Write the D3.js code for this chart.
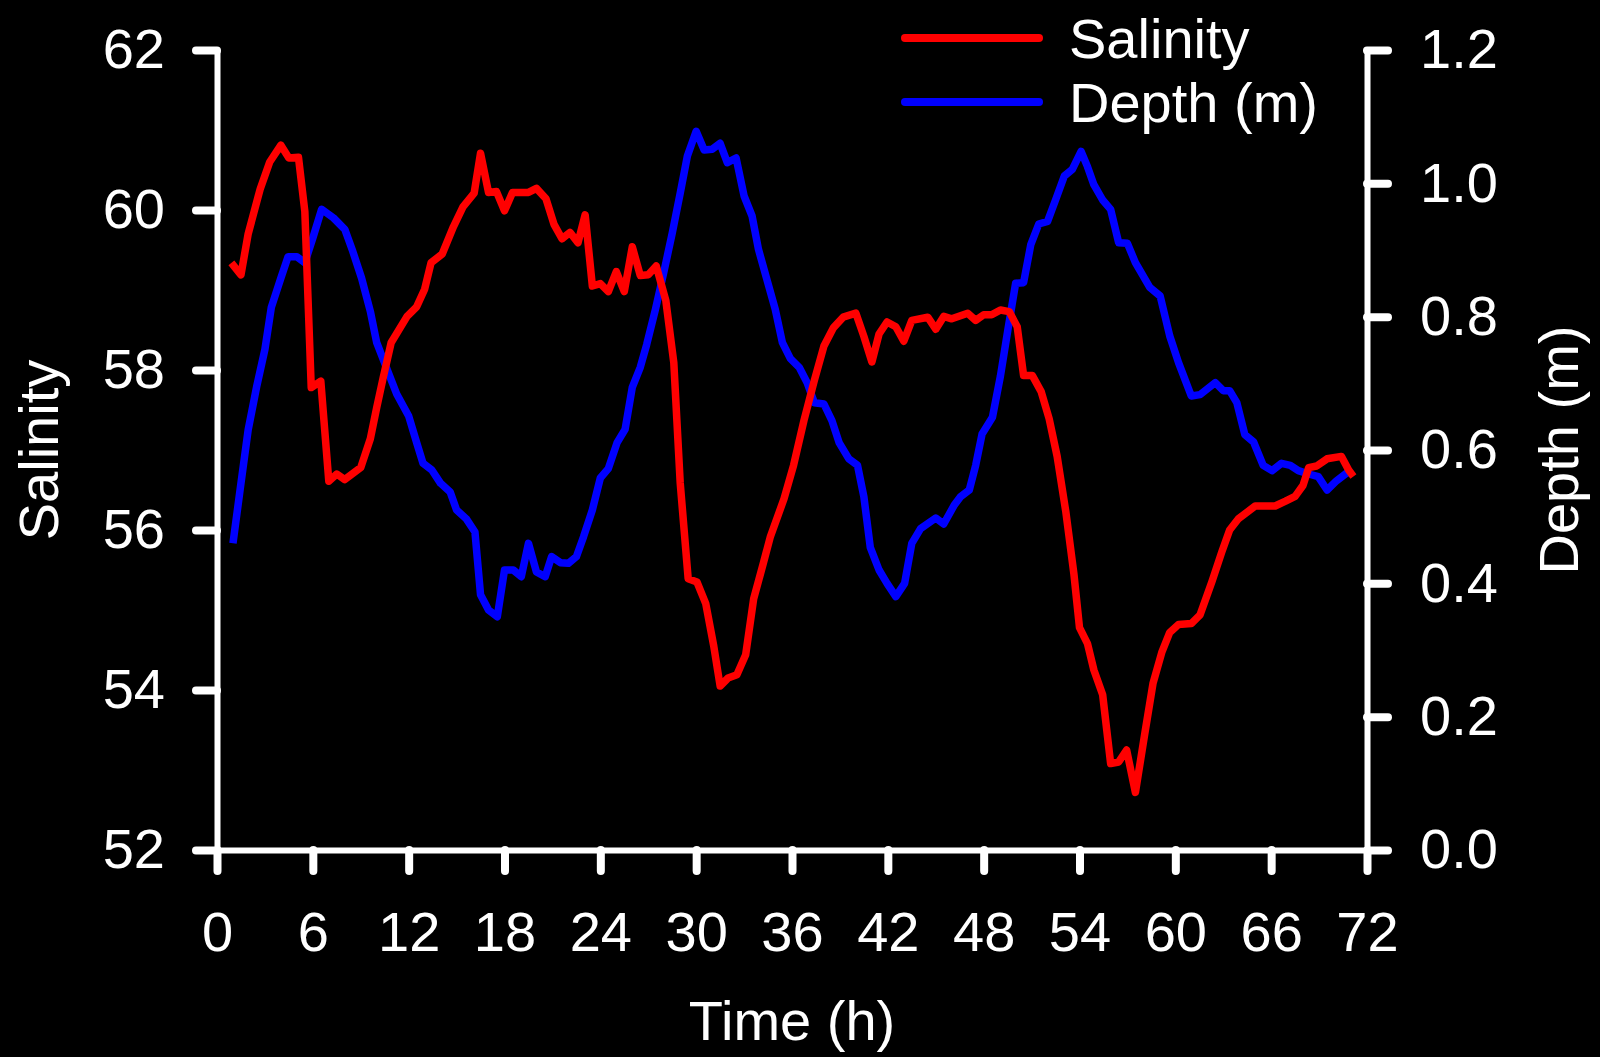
<!DOCTYPE html>
<html>
<head>
<meta charset="utf-8">
<script src="https://cdn.jsdelivr.net/npm/d3@7"></script>
<style>
  body { margin: 0; background: #000; }
  svg { display: block; }
</style>
</head>
<body>
<script>
// Salinity series (time in h, salinity)
const salinityHours = [0.9, 1.5, 1.95, 2.7, 3.3, 4.0, 4.5, 5.1, 5.5, 5.9, 6.5, 7.0, 7.5, 8.0, 9.0, 9.6, 10.0, 10.4, 10.9, 11.9,
  12.5, 13.0, 13.4, 14.1, 14.8, 15.4, 16.1, 16.5, 17.0, 17.5, 18.0, 18.5, 19.5, 20.0, 20.6, 21.1, 21.6, 22.1, 22.6, 23.05,
  23.5, 24.0, 24.5, 25.0, 25.5, 26.0, 26.5, 27.0, 27.5, 28.1, 28.6, 29.0, 29.5, 30.05, 30.6, 31.1, 31.5, 32.0, 32.55, 33.1,
  33.6, 34.2, 34.65, 35.5, 36.1, 36.75, 37.4, 38.0, 38.6, 39.2, 40.0, 40.5, 41.0, 41.45, 41.95, 42.5, 43.0, 43.5, 44.5, 45.0,
  45.5, 46.0, 47.0, 47.5, 48.0, 48.5, 49.05, 49.6, 50.1, 50.5, 51.05, 51.6, 52.1, 52.6, 53.15, 53.65, 54.0, 54.5, 54.9, 55.45,
  55.95, 56.45, 56.95, 57.5, 58.1, 58.6, 59.15, 59.65, 60.2, 61.0, 61.55, 62.3, 62.9, 63.4, 63.95, 65.0, 66.25, 66.9, 67.5, 68.0,
  68.35, 68.85, 69.5, 70.4, 70.85, 71.15];
const salinityValues = [59.34, 59.19, 59.70, 60.26, 60.6, 60.81, 60.65, 60.66, 59.98, 57.78, 57.86, 56.61, 56.7, 56.63, 56.78, 57.14, 57.53, 57.9, 58.34, 58.67,
  58.79, 59.01, 59.34, 59.45, 59.79, 60.04, 60.21, 60.71, 60.22, 60.23, 59.99, 60.22, 60.22, 60.27, 60.14, 59.82, 59.64, 59.72, 59.59, 59.94,
  59.05, 59.08, 58.98, 59.23, 58.98, 59.54, 59.18, 59.19, 59.3, 58.87, 58.09, 56.59, 55.39, 55.35, 55.08, 54.55, 54.05, 54.15, 54.19, 54.44,
  55.14, 55.58, 55.92, 56.39, 56.81, 57.37, 57.87, 58.3, 58.53, 58.66, 58.71, 58.42, 58.1, 58.45, 58.6, 58.54, 58.36, 58.62, 58.66, 58.51,
  58.67, 58.64, 58.71, 58.62, 58.69, 58.69, 58.75, 58.73, 58.54, 57.93, 57.93, 57.73, 57.39, 56.92, 56.22, 55.45, 54.78, 54.58, 54.25, 53.94,
  53.08, 53.1, 53.25, 52.72, 53.47, 54.08, 54.47, 54.72, 54.82, 54.83, 54.94, 55.36, 55.72, 56.0, 56.14, 56.3, 56.3, 56.36, 56.42, 56.56,
  56.78, 56.8, 56.89, 56.92, 56.75, 56.67];

// Depth series (time in h, depth in m)
const depthHours = [1.0, 1.5, 1.95, 2.5, 3.0, 3.4, 4.0, 4.45, 5.0, 5.5, 6.0, 6.55, 7.3, 8.0, 8.5, 9.05, 9.6, 10.0, 10.6, 11.25,
  12.0, 12.5, 12.9, 13.45, 14.0, 14.6, 15.0, 15.6, 16.15, 16.5, 17.0, 17.55, 18.0, 18.55, 19.05, 19.5, 20.0, 20.55, 20.95, 21.5,
  22.0, 22.5, 22.95, 23.5, 24.0, 24.5, 25.05, 25.55, 26.0, 26.5, 26.9, 27.45, 27.95, 28.5, 29.0, 29.45, 30.0, 30.5, 31.0, 31.5,
  31.95, 32.5, 33.0, 33.5, 33.9, 34.45, 34.95, 35.4, 35.9, 36.45, 36.95, 37.4, 38.0, 38.5, 38.95, 39.55, 40.1, 40.5, 40.9, 41.45,
  41.95, 42.5, 43.05, 43.5, 44.05, 45.0, 45.5, 46.15, 46.55, 47.1, 47.5, 47.9, 48.55, 49.05, 49.5, 50.0, 50.5, 50.95, 51.45, 52.0,
  52.5, 53.05, 53.55, 54.1, 54.5, 54.9, 55.45, 55.95, 56.45, 57.0, 57.5, 58.4, 59.05, 59.65, 60.2, 61.0, 61.55, 62.5, 63.0, 63.4,
  63.85, 64.35, 64.9, 65.5, 66.05, 66.65, 67.2, 67.7, 68.35, 68.95, 69.5, 70.1, 70.65, 71.05];
const depthValues = [0.46, 0.55, 0.63, 0.697, 0.751, 0.814, 0.858, 0.89, 0.89, 0.881, 0.918, 0.961, 0.948, 0.931, 0.898, 0.858, 0.808, 0.761, 0.724, 0.684,
  0.651, 0.611, 0.58, 0.57, 0.55, 0.537, 0.51, 0.497, 0.477, 0.383, 0.36, 0.35, 0.42, 0.42, 0.41, 0.46, 0.417, 0.41, 0.44, 0.431,
  0.43, 0.44, 0.47, 0.51, 0.558, 0.572, 0.611, 0.631, 0.694, 0.724, 0.758, 0.811, 0.864, 0.925, 0.985, 1.041, 1.078, 1.05, 1.051, 1.06,
  1.031, 1.038, 0.981, 0.951, 0.901, 0.854, 0.811, 0.761, 0.737, 0.724, 0.701, 0.671, 0.669, 0.644, 0.611, 0.587, 0.577, 0.53, 0.454, 0.42,
  0.4, 0.38, 0.4, 0.46, 0.482, 0.498, 0.489, 0.517, 0.53, 0.54, 0.577, 0.624, 0.649, 0.711, 0.778, 0.85, 0.851, 0.908, 0.939, 0.943,
  0.975, 1.011, 1.021, 1.048, 1.025, 0.998, 0.975, 0.961, 0.911, 0.91, 0.881, 0.844, 0.831, 0.771, 0.731, 0.681, 0.683, 0.701, 0.689, 0.689,
  0.671, 0.623, 0.612, 0.577, 0.569, 0.58, 0.577, 0.569, 0.564, 0.56, 0.54, 0.554, 0.564, 0.57];

const hourTicks = [0, 6, 12, 18, 24, 30, 36, 42, 48, 54, 60, 66, 72];
const salinityTicks = [52, 54, 56, 58, 60, 62];
const depthTicks = [0, 0.2, 0.4, 0.6, 0.8, 1.0, 1.2];

const width = 1600;
const height = 1057;
const margin = { top: 50, right: 233, bottom: 207, left: 217 };
const font = "'Liberation Sans', Arial, sans-serif";

const x = d3.scaleLinear().domain([0, 72]).range([margin.left, width - margin.right]);
const ySal = d3.scaleLinear().domain([52, 62]).range([height - margin.bottom, margin.top]);
const yDep = d3.scaleLinear().domain([0, 1.2]).range([height - margin.bottom, margin.top]);

const svg = d3.select("body").append("svg")
  .attr("width", width)
  .attr("height", height)
  .style("background", "#000");

function styleAxis(g) {
  g.selectAll(".domain").attr("stroke", "#fff").attr("stroke-width", 6);
  g.selectAll(".tick line").attr("stroke", "#fff").attr("stroke-width", 8).attr("stroke-linecap", "round");
  g.selectAll(".tick text").attr("fill", "#fff").style("font-family", font).style("font-size", "56px");
}

// left axis
svg.append("g")
  .attr("transform", `translate(${margin.left},0)`)
  .call(d3.axisLeft(ySal).tickValues(salinityTicks).tickSize(21).tickSizeOuter(0).tickPadding(31).tickFormat(d3.format("d")))
  .call(styleAxis);

// right axis
svg.append("g")
  .attr("transform", `translate(${width - margin.right},0)`)
  .call(d3.axisRight(yDep).tickValues(depthTicks).tickSize(21).tickSizeOuter(0).tickPadding(32).tickFormat(d3.format(".1f")))
  .call(styleAxis);

// bottom axis
svg.append("g")
  .attr("transform", `translate(0,${height - margin.bottom})`)
  .call(d3.axisBottom(x).tickValues(hourTicks).tickSize(21).tickSizeOuter(0).tickPadding(40).tickFormat(d3.format("d")))
  .call(styleAxis);

// lines
const salinityLine = d3.line()
  .x((d, i) => x(salinityHours[i]))
  .y(d => ySal(d));
const depthLine = d3.line()
  .x((d, i) => x(depthHours[i]))
  .y(d => yDep(d));

svg.append("path")
  .datum(depthValues)
  .attr("d", depthLine)
  .attr("fill", "none")
  .attr("stroke", "#0000ff")
  .attr("stroke-width", 7.5)
  .attr("stroke-linejoin", "round");

svg.append("path")
  .datum(salinityValues)
  .attr("d", salinityLine)
  .attr("fill", "none")
  .attr("stroke", "#ff0000")
  .attr("stroke-width", 7.5)
  .attr("stroke-linejoin", "round");

// axis titles
svg.append("text")
  .attr("x", (margin.left + width - margin.right) / 2)
  .attr("y", 1040)
  .attr("text-anchor", "middle")
  .attr("fill", "#fff")
  .style("font-family", font)
  .style("font-size", "56px")
  .text("Time (h)");

svg.append("text")
  .attr("transform", `translate(58,${(margin.top + height - margin.bottom) / 2}) rotate(-90)`)
  .attr("text-anchor", "middle")
  .attr("fill", "#fff")
  .style("font-family", font)
  .style("font-size", "56px")
  .text("Salinity");

svg.append("text")
  .attr("transform", `translate(1578,${(margin.top + height - margin.bottom) / 2}) rotate(-90)`)
  .attr("text-anchor", "middle")
  .attr("fill", "#fff")
  .style("font-family", font)
  .style("font-size", "56px")
  .text("Depth (m)");

// legend
const legendItems = [
  { name: "Salinity", color: "#ff0000" },
  { name: "Depth (m)", color: "#0000ff" }
];
const legend = svg.append("g").attr("transform", "translate(905,38)");
const item = legend.selectAll("g")
  .data(legendItems)
  .enter().append("g")
  .attr("transform", (d, i) => `translate(0,${i * 64})`);
item.append("line")
  .attr("x1", 0).attr("x2", 134)
  .attr("stroke", d => d.color)
  .attr("stroke-width", 8)
  .attr("stroke-linecap", "round");
item.append("text")
  .attr("x", 164)
  .attr("dy", "0.35em")
  .attr("fill", "#fff")
  .style("font-family", font)
  .style("font-size", "56px")
  .text(d => d.name);
</script>
</body>
</html>
